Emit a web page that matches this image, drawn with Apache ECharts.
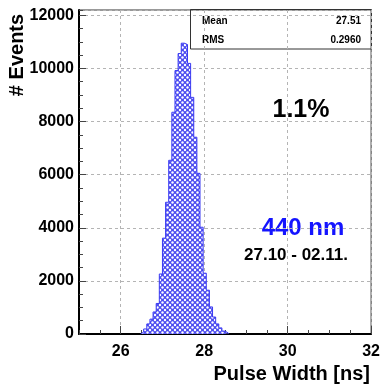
<!DOCTYPE html>
<html>
<head>
<meta charset="utf-8">
<script src="https://cdn.jsdelivr.net/npm/echarts@6/dist/echarts.min.js"></script>
<style>html,body{margin:0;padding:0;background:#fff}</style>
</head>
<body>
<div id="pulseChart" style="width:383px;height:384px"></div>
<script>
// bin low edges [ns] and entries per bin
const binEdges = [26.475, 26.55, 26.625, 26.7, 26.775, 26.85, 26.925, 27.0, 27.075, 27.15,
  27.225, 27.3, 27.375, 27.45, 27.525, 27.6, 27.675, 27.75, 27.825, 27.9,
  27.975, 28.05, 28.125, 28.2, 28.275, 28.35, 28.425, 28.5];
const counts = [75, 190, 380, 560, 830, 1150, 2260, 3610, 4960, 6540,
  8350, 9920, 10560, 10950, 10900, 10190, 8910, 7410, 6050, 4020,
  2290, 1650, 1020, 640, 380, 230, 110, 40];
const xTickLabels = [26, 28, 30, 32];
const statNames = ["Mean", "RMS"];
const statValues = ["27.51", "0.2960"];
const notes = ["1.1%", "440 nm", "27.10 - 02.11."];

const font = "'Liberation Sans', Arial, sans-serif";

function hatchPattern() {
  const c = document.createElement("canvas");
  c.width = 5;
  c.height = 5;
  const g = c.getContext("2d");
  g.fillStyle = "#4c4cf0";
  g.fillRect(0, 0, 5, 5);
  g.fillStyle = "#ffffff";
  [[0, 0], [5, 0], [0, 5], [5, 5], [2.5, 2.5]].forEach(function (p) {
    g.beginPath();
    g.arc(p[0], p[1], 1.2, 0, Math.PI * 2);
    g.fill();
  });
  return c;
}

const binWidth = binEdges[1] - binEdges[0];
const stepData = [[binEdges[0], 0]];
binEdges.forEach(function (e, i) { stepData.push([e, counts[i]]); });
stepData.push([binEdges[binEdges.length - 1] + binWidth, 0]);

const chart = echarts.init(document.getElementById("pulseChart"));
const dash = { color: "#b4b4b4", type: [3, 3], width: 1 };

const option = {
  animation: false,
  grid: { left: 79, right: 11, top: 10, bottom: 50, show: true, borderColor: "#333", borderWidth: 1 },
  xAxis: [
    {
      type: "value", min: 25, max: 32, interval: 0.5,
      axisLine: { lineStyle: { color: "#000", width: 2 } },
      axisTick: { inside: true, length: 4, lineStyle: { color: "#444" } },
      axisLabel: { show: false },
      splitLine: { show: false }
    },
    {
      type: "value", min: 25, max: 32, position: "bottom",
      axisLine: { show: false },
      axisTick: { inside: true, length: 8, customValues: xTickLabels, lineStyle: { color: "#444" } },
      axisLabel: { customValues: xTickLabels, margin: 10, color: "#000", fontFamily: font, fontWeight: "bold", fontSize: 16 },
      splitLine: { show: true, lineStyle: dash }
    }
  ],
  yAxis: [
    {
      type: "value", min: 0, max: 12200, interval: 2000,
      axisLine: { show: true, lineStyle: { color: "#000", width: 2 } },
      axisTick: { show: true, inside: true, length: 7, lineStyle: { color: "#444" } },
      axisLabel: { showMaxLabel: false, margin: 5, color: "#000", fontFamily: font, fontWeight: "bold", fontSize: 16,
        formatter: function (v) { return String(v); } },
      splitLine: { show: true, lineStyle: dash }
    },
    {
      type: "value", min: 0, max: 12200, interval: 500, position: "left",
      axisLine: { show: false },
      axisTick: { show: true, inside: true, length: 4, lineStyle: { color: "#444" } },
      axisLabel: { show: false },
      splitLine: { show: false }
    }
  ],
  series: [
    {
      type: "line",
      step: "end",
      data: stepData,
      xAxisIndex: 0,
      yAxisIndex: 0,
      symbol: "none",
      lineStyle: { color: "#3a3af2", width: 1 },
      areaStyle: { color: { image: hatchPattern(), repeat: "repeat" }, opacity: 1 }
    }
  ],
  graphic: [
    { type: "text", x: 17, y: 55, rotation: Math.PI / 2,
      style: { text: "# Events", fontFamily: font, fontWeight: "bold", fontSize: 20, fill: "#000", align: "center", verticalAlign: "middle" } },
    { type: "text", x: 370, y: 374,
      style: { text: "Pulse Width [ns]", fontFamily: font, fontWeight: "bold", fontSize: 20, fill: "#000", align: "right", verticalAlign: "middle" } },
    { type: "rect", shape: { x: 190.5, y: 9.5, width: 181, height: 39.5 },
      style: { fill: null, stroke: "#333", lineWidth: 1 } },
    { type: "text", x: 202, y: 21, style: { text: statNames[0], fontFamily: font, fontWeight: "bold", fontSize: 10, fill: "#000", verticalAlign: "middle" } },
    { type: "text", x: 361, y: 21, style: { text: statValues[0], fontFamily: font, fontWeight: "bold", fontSize: 10, fill: "#000", align: "right", verticalAlign: "middle" } },
    { type: "text", x: 202, y: 40, style: { text: statNames[1], fontFamily: font, fontWeight: "bold", fontSize: 10, fill: "#000", verticalAlign: "middle" } },
    { type: "text", x: 361, y: 40, style: { text: statValues[1], fontFamily: font, fontWeight: "bold", fontSize: 10, fill: "#000", align: "right", verticalAlign: "middle" } },
    { type: "text", x: 301, y: 110, style: { text: notes[0], fontFamily: font, fontWeight: "bold", fontSize: 25, fill: "#000", align: "center", verticalAlign: "middle" } },
    { type: "text", x: 303, y: 228, style: { text: notes[1], fontFamily: font, fontWeight: "bold", fontSize: 24, fill: "#1414ff", align: "center", verticalAlign: "middle" } },
    { type: "text", x: 296, y: 255, style: { text: notes[2], fontFamily: font, fontWeight: "bold", fontSize: 17, fill: "#000", align: "center", verticalAlign: "middle" } }
  ]
};
chart.setOption(option);
</script>
</body>
</html>
